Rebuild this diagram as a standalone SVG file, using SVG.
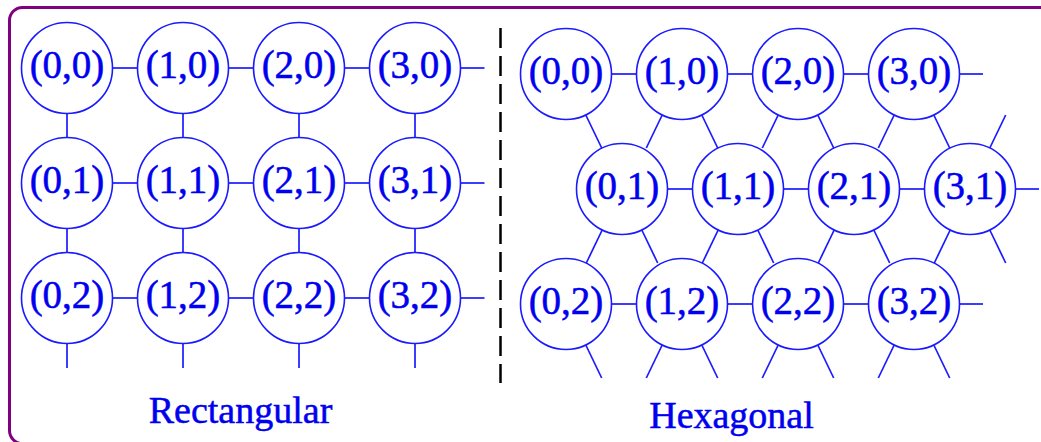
<svg xmlns="http://www.w3.org/2000/svg" width="1041" height="442" viewBox="0 0 1041 442" font-family="Liberation Serif, Times New Roman, serif">
<style>
.n circle{fill:#fff;stroke:#1a1aff;stroke-width:1.6}
.n text,.lbl{fill:#0000f0;text-anchor:middle;stroke:#0000f0;stroke-width:0.5}
.n text{font-size:39px}
.lbl{font-size:38px}
#connectors line{stroke:#1a1aff;stroke-width:1.7}
</style>
<rect x="9.5" y="7.5" width="1045" height="436" rx="13" fill="none" stroke="#800080" stroke-width="3"/>
<line x1="500.5" y1="28" x2="500.5" y2="383" stroke="#000" stroke-width="2.5" stroke-dasharray="20 8"/>
<g id="connectors">
<line x1="112.5" y1="68" x2="137.5" y2="68"/><line x1="228.5" y1="68" x2="253.5" y2="68"/><line x1="344.5" y1="68" x2="369.5" y2="68"/><line x1="460.5" y1="68" x2="484.5" y2="68"/>
<line x1="112.5" y1="183" x2="137.5" y2="183"/><line x1="228.5" y1="183" x2="253.5" y2="183"/><line x1="344.5" y1="183" x2="369.5" y2="183"/><line x1="460.5" y1="183" x2="484.5" y2="183"/>
<line x1="112.5" y1="298" x2="137.5" y2="298"/><line x1="228.5" y1="298" x2="253.5" y2="298"/><line x1="344.5" y1="298" x2="369.5" y2="298"/><line x1="460.5" y1="298" x2="484.5" y2="298"/>
<line x1="67" y1="113.5" x2="67" y2="137.5"/><line x1="183" y1="113.5" x2="183" y2="137.5"/><line x1="299" y1="113.5" x2="299" y2="137.5"/><line x1="415" y1="113.5" x2="415" y2="137.5"/>
<line x1="67" y1="228.5" x2="67" y2="252.5"/><line x1="183" y1="228.5" x2="183" y2="252.5"/><line x1="299" y1="228.5" x2="299" y2="252.5"/><line x1="415" y1="228.5" x2="415" y2="252.5"/>
<line x1="67" y1="343.5" x2="67" y2="368"/><line x1="183" y1="343.5" x2="183" y2="368"/><line x1="299" y1="343.5" x2="299" y2="368"/><line x1="415" y1="343.5" x2="415" y2="368"/>
<line x1="611.5" y1="74" x2="636.5" y2="74"/><line x1="727.5" y1="74" x2="752.5" y2="74"/><line x1="843.5" y1="74" x2="868.5" y2="74"/><line x1="959.5" y1="74" x2="983" y2="74"/>
<line x1="667.5" y1="189" x2="692.5" y2="189"/><line x1="783.5" y1="189" x2="808.5" y2="189"/><line x1="899.5" y1="189" x2="924.5" y2="189"/><line x1="1015.5" y1="189" x2="1039" y2="189"/>
<line x1="611.5" y1="304" x2="636.5" y2="304"/><line x1="727.5" y1="304" x2="752.5" y2="304"/><line x1="843.5" y1="304" x2="868.5" y2="304"/><line x1="959.5" y1="304" x2="983" y2="304"/>
<line x1="585.8" y1="115" x2="601.7" y2="148"/>
<line x1="662.2" y1="115" x2="646.3" y2="148"/><line x1="701.8" y1="115" x2="717.7" y2="148"/>
<line x1="778.2" y1="115" x2="762.3" y2="148"/><line x1="817.8" y1="115" x2="833.7" y2="148"/>
<line x1="894.2" y1="115" x2="878.3" y2="148"/><line x1="933.8" y1="115" x2="949.7" y2="148"/>
<line x1="989.8" y1="148" x2="1005.7" y2="115"/>
<line x1="602.2" y1="230" x2="586.3" y2="263"/><line x1="641.8" y1="230" x2="657.7" y2="263"/>
<line x1="718.2" y1="230" x2="702.3" y2="263"/><line x1="757.8" y1="230" x2="773.7" y2="263"/>
<line x1="834.2" y1="230" x2="818.3" y2="263"/><line x1="873.8" y1="230" x2="889.7" y2="263"/>
<line x1="950.2" y1="230" x2="934.3" y2="263"/><line x1="989.8" y1="230" x2="1005.7" y2="263"/>
<line x1="585.8" y1="345" x2="601.7" y2="378"/>
<line x1="662.2" y1="345" x2="646.3" y2="378"/><line x1="701.8" y1="345" x2="717.7" y2="378"/>
<line x1="778.2" y1="345" x2="762.3" y2="378"/><line x1="817.8" y1="345" x2="833.7" y2="378"/>
<line x1="894.2" y1="345" x2="878.3" y2="378"/><line x1="933.8" y1="345" x2="949.7" y2="378"/>
</g>
<g id="rect-nodes">
<g id="r00" class="n"><circle cx="67" cy="68" r="45.5"/><text x="67" y="78">(0,0)</text></g>
<g id="r10" class="n"><circle cx="183" cy="68" r="45.5"/><text x="183" y="78">(1,0)</text></g>
<g id="r20" class="n"><circle cx="299" cy="68" r="45.5"/><text x="299" y="78">(2,0)</text></g>
<g id="r30" class="n"><circle cx="415" cy="68" r="45.5"/><text x="415" y="78">(3,0)</text></g>
<g id="r01" class="n"><circle cx="67" cy="183" r="45.5"/><text x="67" y="193">(0,1)</text></g>
<g id="r11" class="n"><circle cx="183" cy="183" r="45.5"/><text x="183" y="193">(1,1)</text></g>
<g id="r21" class="n"><circle cx="299" cy="183" r="45.5"/><text x="299" y="193">(2,1)</text></g>
<g id="r31" class="n"><circle cx="415" cy="183" r="45.5"/><text x="415" y="193">(3,1)</text></g>
<g id="r02" class="n"><circle cx="67" cy="298" r="45.5"/><text x="67" y="308">(0,2)</text></g>
<g id="r12" class="n"><circle cx="183" cy="298" r="45.5"/><text x="183" y="308">(1,2)</text></g>
<g id="r22" class="n"><circle cx="299" cy="298" r="45.5"/><text x="299" y="308">(2,2)</text></g>
<g id="r32" class="n"><circle cx="415" cy="298" r="45.5"/><text x="415" y="308">(3,2)</text></g>
</g>
<g id="hex-nodes">
<g id="h00" class="n"><circle cx="566" cy="74" r="45.5"/><text x="566" y="84">(0,0)</text></g>
<g id="h10" class="n"><circle cx="682" cy="74" r="45.5"/><text x="682" y="84">(1,0)</text></g>
<g id="h20" class="n"><circle cx="798" cy="74" r="45.5"/><text x="798" y="84">(2,0)</text></g>
<g id="h30" class="n"><circle cx="914" cy="74" r="45.5"/><text x="914" y="84">(3,0)</text></g>
<g id="h01" class="n"><circle cx="622" cy="189" r="45.5"/><text x="622" y="199">(0,1)</text></g>
<g id="h11" class="n"><circle cx="738" cy="189" r="45.5"/><text x="738" y="199">(1,1)</text></g>
<g id="h21" class="n"><circle cx="854" cy="189" r="45.5"/><text x="854" y="199">(2,1)</text></g>
<g id="h31" class="n"><circle cx="970" cy="189" r="45.5"/><text x="970" y="199">(3,1)</text></g>
<g id="h02" class="n"><circle cx="566" cy="304" r="45.5"/><text x="566" y="314">(0,2)</text></g>
<g id="h12" class="n"><circle cx="682" cy="304" r="45.5"/><text x="682" y="314">(1,2)</text></g>
<g id="h22" class="n"><circle cx="798" cy="304" r="45.5"/><text x="798" y="314">(2,2)</text></g>
<g id="h32" class="n"><circle cx="914" cy="304" r="45.5"/><text x="914" y="314">(3,2)</text></g>
</g>
<text class="lbl" x="240.5" y="423">Rectangular</text>
<text class="lbl" x="731.5" y="428">Hexagonal</text>
</svg>
